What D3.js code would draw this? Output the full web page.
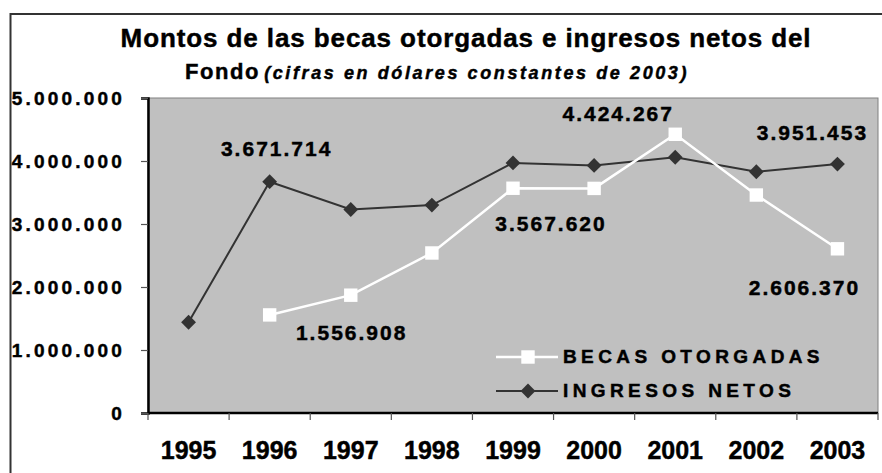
<!DOCTYPE html>
<html>
<head>
<meta charset="utf-8">
<script src="https://cdn.jsdelivr.net/npm/d3@7"></script>
<style>
  body { margin: 0; background: #fff; }
  svg { display: block; font-family: "Liberation Sans", Arial, sans-serif; font-weight: bold; }
  svg text { font-weight: bold; stroke: #000; stroke-width: 0.45px; }
</style>
</head>
<body>
<div id="chart"></div>
<script>
// data
const years = ["1995", "1996", "1997", "1998", "1999", "2000", "2001", "2002", "2003"];
const becas = [null, 1556908, 1870000, 2540000, 3567620, 3565000, 4424267, 3460000, 2606370];
const ingresos = [1440000, 3671714, 3230000, 3300000, 3970000, 3930000, 4060000, 3830000, 3951453];
const yTicks = [0, 1000000, 2000000, 3000000, 4000000, 5000000];
const seriesNames = ["BECAS OTORGADAS", "INGRESOS NETOS"];

const width = 882, height = 473;
const plot = { left: 148, right: 878, top: 98, bottom: 413 };

const loc = d3.formatLocale({ decimal: ",", thousands: ".", grouping: [3], currency: ["$", ""] });
const fmt = loc.format(",d");

const svg = d3.select("#chart").append("svg")
    .attr("width", width)
    .attr("height", height);

// outer frame (runs off the right/bottom edge)
svg.append("rect")
    .attr("x", 10.5).attr("y", 14)
    .attr("width", width).attr("height", height)
    .attr("fill", "#fff")
    .attr("stroke", "#333").attr("stroke-width", 2);

const x = d3.scaleBand().domain(years).range([plot.left, plot.right]);
const y = d3.scaleLinear().domain([0, 5000000]).range([plot.bottom, plot.top]);

// plot area
svg.append("rect")
    .attr("x", plot.left).attr("y", plot.top)
    .attr("width", plot.right - plot.left).attr("height", plot.bottom - plot.top)
    .attr("fill", "#c0c0c0")
    .attr("stroke", "#808080").attr("stroke-width", 1);

// y axis
const yAxis = svg.append("g")
    .attr("transform", `translate(${plot.left},0)`)
    .call(d3.axisLeft(y).tickValues(yTicks).tickSize(7).tickFormat(fmt));
yAxis.attr("font-family", null).attr("font-size", null);
yAxis.select(".domain").attr("stroke", "#000").attr("stroke-width", 2.5);
yAxis.selectAll(".tick line").attr("stroke", "#555").attr("stroke-width", 1.2);
yAxis.selectAll(".tick text")
    .attr("x", -23)
    .attr("dy", "0.35em")
    .attr("font-size", 19)
    .attr("letter-spacing", "3.2px")
    .attr("fill", "#000");

// x axis: ticks on band edges, labels centred in the bands
const xAxis = svg.append("g")
    .attr("transform", `translate(0,${plot.bottom})`);
xAxis.append("line")
    .attr("x1", plot.left).attr("x2", plot.right)
    .attr("stroke", "#000").attr("stroke-width", 2.5);
const edges = years.map(d => x(d)).concat([x(years[years.length - 1]) + x.bandwidth()]);
xAxis.selectAll("line.tk").data(edges).enter().append("line")
    .attr("class", "tk")
    .attr("x1", d => d).attr("x2", d => d)
    .attr("y1", 0).attr("y2", 7)
    .attr("stroke", "#555").attr("stroke-width", 1.2);
xAxis.selectAll("text").data(years).enter().append("text")
    .attr("x", d => x(d) + x.bandwidth() / 2)
    .attr("y", 46)
    .attr("text-anchor", "middle")
    .attr("font-size", 25)
    .attr("fill", "#000")
    .text(d => d);

const cx = i => x(years[i]) + x.bandwidth() / 2;

const line = d3.line()
    .defined(d => d.v != null)
    .x(d => cx(d.i))
    .y(d => y(d.v));

const ingData = ingresos.map((v, i) => ({ v, i }));
const becData = becas.map((v, i) => ({ v, i }));

svg.append("path")
    .datum(ingData)
    .attr("d", line)
    .attr("fill", "none")
    .attr("stroke", "#333").attr("stroke-width", 2);

svg.append("path")
    .datum(becData)
    .attr("d", line)
    .attr("fill", "none")
    .attr("stroke", "#fff").attr("stroke-width", 2.5);

const diamond = d3.symbol(d3.symbolSquare, 110);
const square = d3.symbol(d3.symbolSquare, 180);

svg.selectAll("path.ing").data(ingData).enter().append("path")
    .attr("class", "ing")
    .attr("d", diamond)
    .attr("transform", d => `translate(${cx(d.i)},${y(d.v)}) rotate(45)`)
    .attr("fill", "#333");

svg.selectAll("path.bec").data(becData.filter(d => d.v != null)).enter().append("path")
    .attr("class", "bec")
    .attr("d", square)
    .attr("transform", d => `translate(${cx(d.i)},${y(d.v)})`)
    .attr("fill", "#fff");

// data labels (placement offsets as in the original)
const labels = [
    { s: ingresos, i: 1, dx: 6, dy: -26 },
    { s: becas, i: 1, dx: 81, dy: 25 },
    { s: becas, i: 4, dx: 37, dy: 43 },
    { s: becas, i: 6, dx: -58, dy: -13 },
    { s: ingresos, i: 8, dx: -26, dy: -24 },
    { s: becas, i: 8, dx: -34, dy: 46 }
];
svg.selectAll("text.lbl").data(labels).enter().append("text")
    .attr("class", "lbl")
    .attr("x", d => cx(d.i) + d.dx + 1)
    .attr("y", d => y(d.s[d.i]) + d.dy)
    .attr("text-anchor", "middle")
    .attr("font-size", 21)
    .attr("letter-spacing", "2px")
    .attr("fill", "#000")
    .text(d => fmt(d.s[d.i]));

// legend
const legend = svg.append("g");
const legY = [357, 391];
seriesNames.forEach((name, k) => {
    const g = legend.append("g").attr("transform", `translate(496,${legY[k]})`);
    g.append("line")
        .attr("x1", 0).attr("x2", 62)
        .attr("stroke", k === 0 ? "#fff" : "#333")
        .attr("stroke-width", k === 0 ? 2.5 : 2);
    g.append("path")
        .attr("d", k === 0 ? square : diamond)
        .attr("transform", k === 0 ? "translate(32,0)" : "translate(32,0) rotate(45)")
        .attr("fill", k === 0 ? "#fff" : "#333");
    g.append("text")
        .attr("x", 67)
        .attr("y", 6)
        .attr("font-size", 19)
        .attr("letter-spacing", "4.4px")
        .attr("fill", "#000")
        .text(name);
});

// title
svg.append("text")
    .attr("x", 466)
    .attr("y", 47)
    .attr("text-anchor", "middle")
    .attr("font-size", 26)
    .attr("letter-spacing", "0.9px")
    .attr("fill", "#000")
    .text("Montos de las becas otorgadas e ingresos netos del");

const t2 = svg.append("text")
    .attr("x", 437)
    .attr("y", 78.5)
    .attr("text-anchor", "middle")
    .attr("fill", "#000");
t2.append("tspan")
    .attr("font-size", 22)
    .attr("letter-spacing", "1.6px")
    .text("Fondo");
t2.append("tspan")
    .attr("dx", 4)
    .attr("font-size", 18)
    .attr("font-style", "italic")
    .attr("letter-spacing", "2.6px")
    .text("(cifras en dólares constantes de 2003)");
</script>
</body>
</html>
